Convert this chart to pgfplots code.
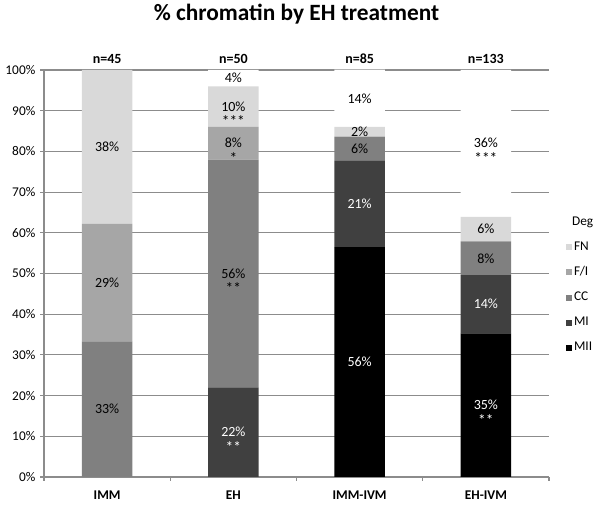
\documentclass[border=0pt]{standalone}
\usepackage{pgfplots}
\pgfplotsset{compat=1.18}
\usepackage{fontspec}
\setmainfont{Carlito}

\definecolor{cMI}{RGB}{64,64,64}
\definecolor{cCC}{RGB}{128,128,128}
\definecolor{cFI}{RGB}{166,166,166}
\definecolor{cFN}{RGB}{217,217,217}
\definecolor{gridc}{RGB}{140,140,140}

\pgfplotsset{
  sq/.style={legend image code/.code={\fill[##1] (0pt,-2.3pt) rectangle (4.6pt,2.3pt);}},
  lbl/.style={draw=none, mark=none, nodes near coords, point meta=explicit symbolic,
    every node near coord/.append style={anchor=center, inner sep=0pt, font=\fontsize{10.5}{12}\selectfont}},
  stars/.style={lbl, every node near coord/.append style={yshift=-11pt, font=\fontsize{11.5}{13}\selectfont}},
}

\begin{document}
\begin{tikzpicture}[font=\fontsize{10}{12}\selectfont]
\begin{axis}[
  name=main,
  scale only axis, width=378.75pt, height=305.25pt,
  ybar stacked, bar width=0.4,
  xmin=-0.5, xmax=3.5, ymin=0, ymax=100,
  axis x line*=bottom, axis y line*=left,
  axis line style={gridc, line width=0.8pt},
  xtick={-0.5,0.5,1.5,2.5,3.5}, xticklabels={},
  extra x ticks={0,1,2,3},
  extra x tick labels={IMM,EH,IMM-IVM,EH-IVM},
  extra x tick style={major tick length=0pt,
    xticklabel style={font=\bfseries\fontsize{10}{12}\selectfont, yshift=-7pt}},
  ytick={0,10,...,100},
  yticklabel={\pgfmathprintnumber{\tick}\%},
  /pgf/number format/assume math mode=true,
  tick align=outside, major tick length=3pt,
  tick style={gridc, line width=0.8pt},
  ymajorgrids, grid style={gridc, line width=0.8pt},
  title={\% chromatin by EH treatment},
  title style={font=\bfseries\fontsize{17.5}{20}\selectfont, at={(0.5,1)}, anchor=base, yshift=31pt},
  reverse legend,
  legend style={at={(1.033,0.64)}, anchor=north west, draw=none, fill=none,
    row sep=10.8pt, inner sep=0pt,
    nodes={inner sep=0pt, anchor=west, font=\fontsize{10}{12}\selectfont}},
  legend cell align=left,
  legend image post style={xshift=-1pt},
]
\addplot[fill=black, draw=none, sq] coordinates {(0,0) (1,0) (2,56.5) (3,35.3)};
\addplot[fill=cMI, draw=none, sq] coordinates {(0,0) (1,22) (2,21.2) (3,14.3)};
\addplot[fill=cCC, draw=none, sq] coordinates {(0,33.3) (1,56) (2,5.9) (3,8.3)};
\addplot[fill=cFI, draw=none, sq] coordinates {(0,28.9) (1,8) (2,0) (3,0)};
\addplot[fill=cFN, draw=none, sq] coordinates {(0,37.8) (1,10) (2,2.4) (3,6.0)};
\addplot[fill=white, draw=none, sq] coordinates {(0,0) (1,4) (2,14.1) (3,36.1)};
\legend{\hspace{1.5pt}MII,\hspace{1.5pt}MI,\hspace{1.5pt}CC,\hspace{1.5pt}F/I,\hspace{1.5pt}FN,Deg}
\end{axis}

\begin{axis}[
  scale only axis, width=378.75pt, height=305.25pt,
  xmin=-0.5, xmax=3.5, ymin=0, ymax=100,
  axis line style={draw=none}, ytick=\empty,
  xtick={0,1,2,3}, xticklabels={n=45,n=50,n=85,n=133},
  xticklabel pos=upper, major tick length=0pt,
  xticklabel style={font=\bfseries\fontsize{10.5}{12}\selectfont, yshift=1.5pt},
  clip=false,
]
% percentages, dark text
\addplot[lbl] coordinates {
  (0,16.65) [33\%] (0,47.75) [29\%] (0,81.1) [38\%]
  (1,50) [56\%] (1,82) [8\%] (1,91) [10\%] (1,98) [4\%]
  (2,80.65) [6\%] (2,84.8) [2\%] (2,93) [14\%]
  (3,53.7) [8\%] (3,60.9) [6\%] (3,82) [36\%]
};
% percentages, white text
\addplot[lbl, every node near coord/.append style={text=white}] coordinates {
  (1,11) [22\%] (2,28.25) [56\%] (2,67.1) [21\%] (3,17.65) [35\%] (3,42.45) [14\%]
};
% significance stars
\addplot[stars] coordinates {
  (1,50) [**] (1,82) [*] (1,91) [***] (3,82) [***]
};
\addplot[stars, every node near coord/.append style={text=white}] coordinates {
  (1,11) [**] (3,17.65) [**]
};
\end{axis}
\pgfresetboundingbox
\path[use as bounding box] (main.south west) ++(-33pt,-21pt) rectangle ++(450pt,378.75pt);
\end{tikzpicture}
\end{document}
